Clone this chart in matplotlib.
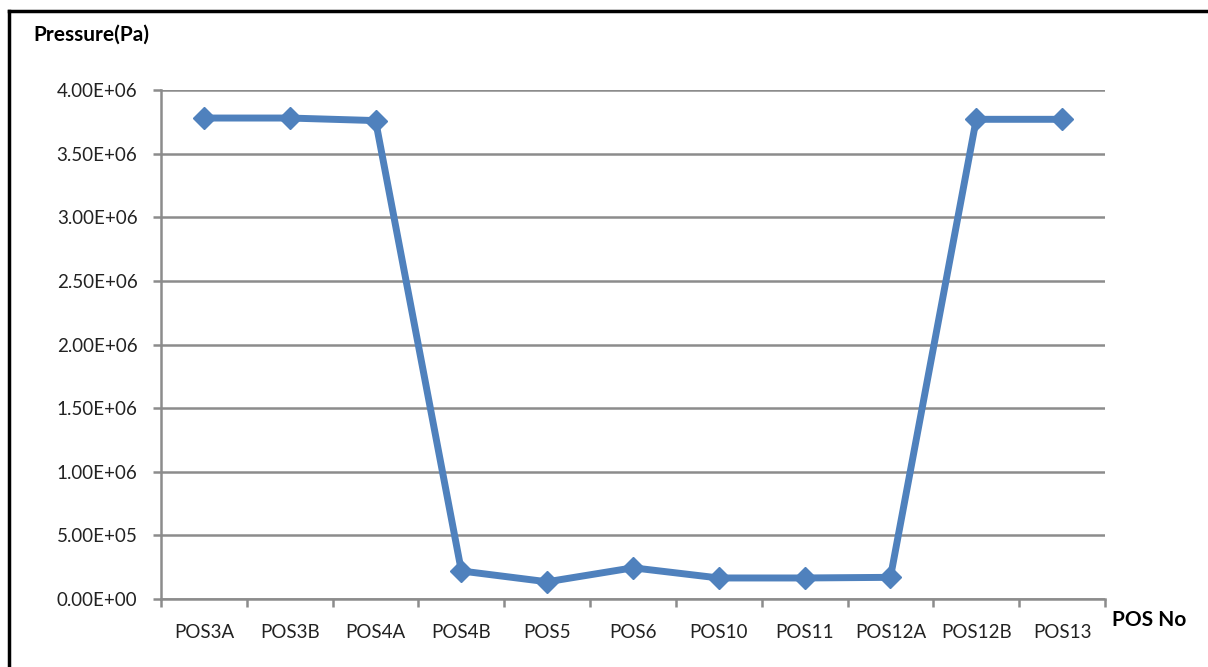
"""Pressure along POS stations, Excel-style line chart."""

import matplotlib
matplotlib.use("Agg")
import matplotlib.pyplot as plt
from matplotlib.lines import Line2D
from matplotlib.ticker import FixedLocator, FuncFormatter

positions = ["POS3A", "POS3B", "POS4A", "POS4B", "POS5", "POS6",
             "POS10", "POS11", "POS12A", "POS12B", "POS13"]
pressure = [3.78e6, 3.78e6, 3.76e6, 0.22e6, 0.135e6, 0.245e6,
            0.165e6, 0.165e6, 0.17e6, 3.77e6, 3.77e6]
y_ticks = [0, 0.5e6, 1.0e6, 1.5e6, 2.0e6, 2.5e6, 3.0e6, 3.5e6, 4.0e6]

plt.rcParams["font.family"] = ["Lato", "DejaVu Sans"]

fig = plt.figure(figsize=(12.08, 6.67), dpi=100)
ax = fig.add_axes([0.1333, 0.102, 0.7814, 0.763])

x = list(range(len(positions)))
ax.plot(x, pressure, color="#4F81BD", lw=5, marker="D", ms=11,
        markeredgecolor="#4F81BD", markerfacecolor="#4F81BD", zorder=3,
        solid_joinstyle="round", clip_on=False)

ax.set_xlim(-0.5, len(positions) - 0.5)
ax.set_ylim(0, 4.0e6)

# gridlines
ax.set_yticks(y_ticks)
ax.yaxis.set_major_formatter(FuncFormatter(lambda v, _: f"{v:.2E}"))
ax.grid(axis="y", color="#8C8C8C", lw=1.8)
ax.set_axisbelow(True)

# categories with ticks on boundaries
ax.set_xticks(x)
ax.set_xticklabels(positions)
ax.xaxis.set_minor_locator(FixedLocator([i - 0.5 for i in range(len(positions) + 1)]))
ax.tick_params(axis="x", which="major", length=0, pad=18, labelsize=13.5,
               labelcolor="#222222")
ax.tick_params(axis="x", which="minor", length=6, width=1.8, color="#8C8C8C",
               direction="out")
ax.tick_params(axis="y", length=6, width=1.8, color="#8C8C8C", pad=11,
               labelsize=13.5, labelcolor="#222222")

for side in ["top", "right"]:
    ax.spines[side].set_visible(False)
for side in ["left", "bottom"]:
    ax.spines[side].set_color("#8C8C8C")
    ax.spines[side].set_linewidth(1.8)

fig.text(33 / 1208, 1 - 35 / 667, "Pressure(Pa)", fontsize=15,
         fontweight="bold", va="center", ha="left")
fig.text(1112 / 1208, 1 - 620 / 667, "POS No", fontsize=15,
         fontweight="bold", va="center", ha="left")

# outer frame (top and left only visible)
fig.add_artist(Line2D([9 / 1208, 9 / 1208], [0, 1 - 11 / 667],
                      color="black", lw=2.5, transform=fig.transFigure))
fig.add_artist(Line2D([9 / 1208, 1], [1 - 11 / 667, 1 - 11 / 667],
                      color="black", lw=2.5, transform=fig.transFigure))

fig.savefig("out.png", dpi=100)
